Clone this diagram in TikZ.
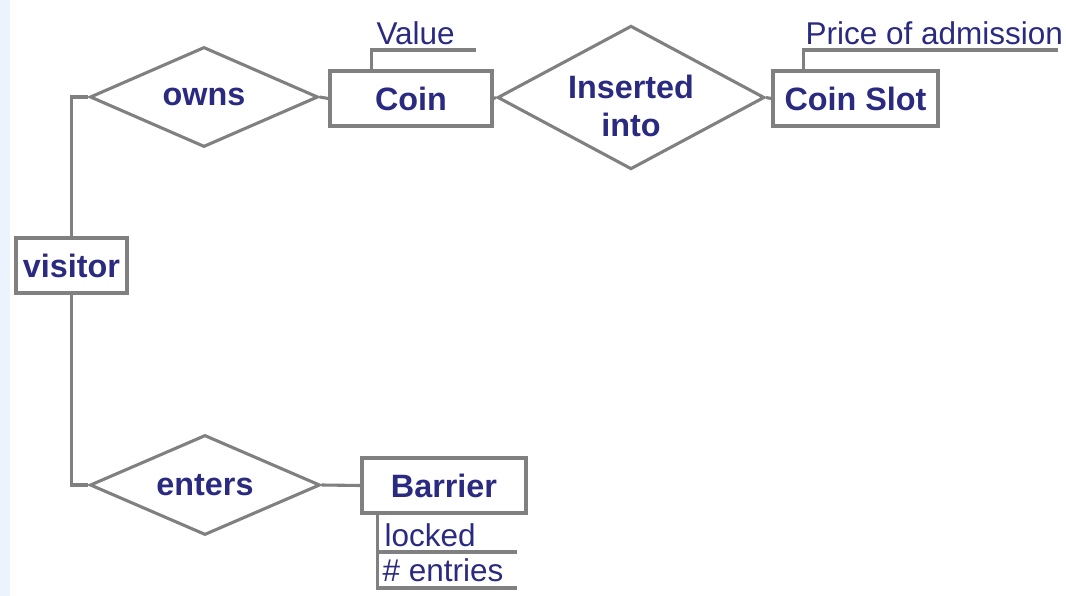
\documentclass[tikz,border=0pt]{standalone}
\usepackage{fontspec}
\setmainfont{Liberation Sans}
\usetikzlibrary{shapes.geometric}
\definecolor{navy}{RGB}{42,42,128}
\definecolor{linegray}{RGB}{128,128,128}
\definecolor{paleblue}{RGB}{236,243,253}

\begin{document}
\begin{tikzpicture}[x=0.025cm,y=-0.025cm,line width=2.2pt,
		entity/.style = {rectangle,draw=linegray,text=navy,font=\fontsize{23}{27}\selectfont\bfseries,inner sep=0pt,minimum height=1.375cm},
		relation/.style = {diamond,draw=linegray,text=navy,font=\fontsize{23}{27}\selectfont\bfseries,inner sep=0pt,align=center},
		attrib/.style = {text=navy,font=\fontsize{22.4}{26}\selectfont,inner sep=0pt,anchor=base west},
		link/.style = {draw=linegray}]
		\useasboundingbox (0,0) rectangle (1066,596);
		\fill[paleblue] (0,0) rectangle (10,596);
		\node [entity,minimum width=2.775cm] (visitor) at (71.5,265.5) {visitor};
		\node [entity,minimum width=4.05cm] (coin) at (411,98.5) {Coin};
		\node [entity,minimum width=4.125cm] (slot) at (855.5,98.5) {Coin Slot};
		\node [entity,minimum width=4.1cm] (barrier) at (444,485.5) {Barrier};
		\node [relation,minimum width=5.7cm,minimum height=2.5cm,aspect=2.28] (owns) at (204,97) {owns};
		\node [relation,minimum width=6.55cm,minimum height=3.525cm,aspect=1.86] (inserted) at (631,97.5)
			{\raisebox{-0.3cm}[\height][\depth]{\begin{tabular}{@{}c@{}}Inserted\\into\end{tabular}}};
		\node [relation,minimum width=5.75cm,minimum height=2.5cm,aspect=2.3] (enters) at (205,485) {enters};
		\node [attrib] (value) at (375,45) {Value};
		\node [attrib] (price) at (804,45) {Price of admission};
		\node [attrib] (locked) at (383,546) {locked};
		\node [attrib] (entries) at (381,581) {\# entries};
		\coordinate (valueend) at (476,50);
		\coordinate (priceend) at (1058,50);
		\coordinate (lockedend) at (517,552);
		\coordinate (entriesend) at (517,588);
		\coordinate (attrtop) at ([xshift=0.425cm]barrier.south west);
		\draw [link] (visitor.north) |- (owns.west);
		\draw [link] (visitor.south) |- (enters.west);
		\draw [link] (owns.east) -- (coin.west);
		\draw [link] (coin.east) -- (inserted.west);
		\draw [link] (inserted.east) -- (slot.west);
		\draw [link] (enters.east) -- (barrier.west);
		\draw [link] ([xshift=1.075cm]coin.north west) |- (valueend);
		\draw [link] ([xshift=0.8cm]slot.north west) |- (priceend);
		\draw [link] (attrtop) |- (entriesend);
		\draw [link] (attrtop |- lockedend) -- (lockedend);
\end{tikzpicture}
\end{document}
